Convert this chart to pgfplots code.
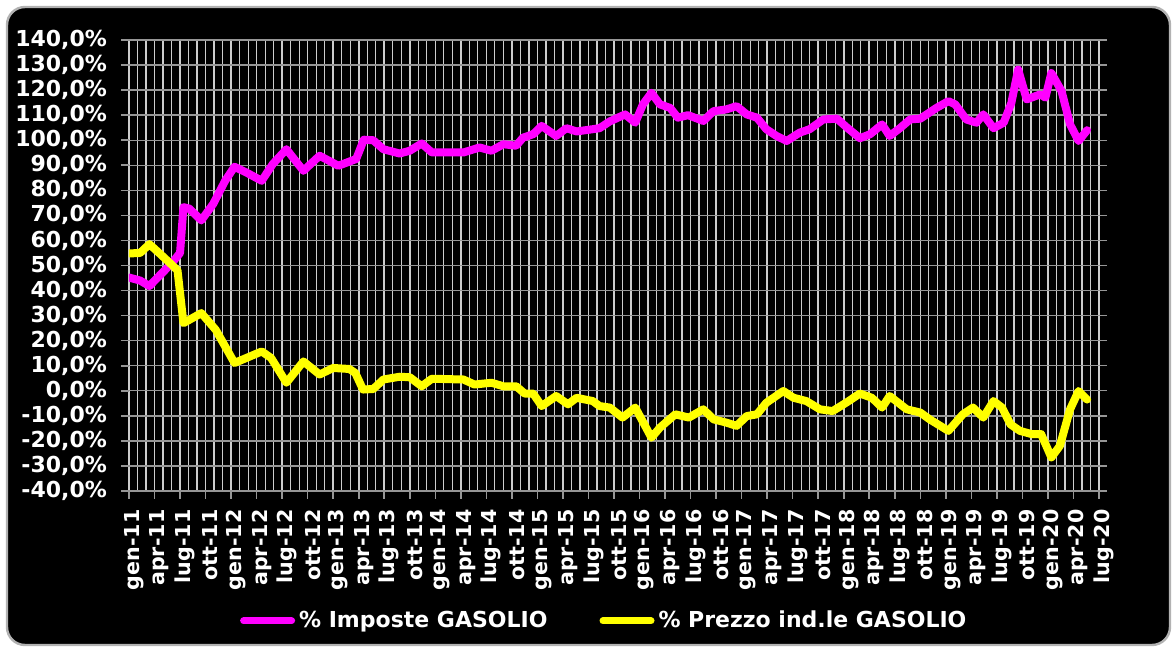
\documentclass[border=0pt]{standalone}
\usepackage{pgfplots}
\pgfplotsset{compat=1.18}
\usepackage{fontspec}
\setmainfont{DejaVu Sans}
\definecolor{mag}{RGB}{255,0,255}
\definecolor{yel}{RGB}{255,255,0}
\definecolor{hgrid}{RGB}{150,150,150}
\definecolor{vgrid}{RGB}{205,205,205}
\pgfplotstableread{
m v
0 45.2
1.3 44
2.4 41.8
3.6 46
5 50.8
6 55
6.4 73.3
7.1 72.7
8.5 68
9.9 74.6
11.3 83.8
12.4 89.4
13.8 87.1
15.6 83.8
16.9 90.5
18.5 96.4
20.5 87.8
22.4 93.8
24.6 89.8
26.7 92.5
27.6 100.2
28.7 100
29.9 96.4
31.8 94.7
33 95.8
34.4 98.7
35.6 95.1
37.3 95.1
39.3 95.1
41.2 97.1
42.6 95.8
44 98.4
45.5 97.8
46.3 101
47.5 102.4
48.5 105.7
50.2 101.7
51.4 104.8
52.6 103.5
54.5 104.4
55.3 104.8
56.5 107.5
58.3 110.3
59.5 107
60.4 114.3
61.4 118.9
62.4 114.3
63.6 112.9
64.5 109
65.7 110
67.5 107.7
68.7 111.6
70.2 112.3
71.4 113.6
72.6 110.3
73.8 109
74.9 104.4
76.1 101.7
77.3 99.7
78.8 103
80 104.4
81.6 108.3
83.2 108.6
84.4 105
85.9 100.8
87.1 102.4
88.5 106.3
89.4 101.7
90.6 104.8
91.8 108.3
93 108.6
94.9 112.9
96.3 115.6
97.1 114.3
98.4 108.3
99.6 107
100.4 110.3
101.6 104.8
102.8 107
103.7 114.9
104.5 128.2
105.5 116.3
107.1 118.3
107.7 117
108.4 126.8
109.6 119.6
110.6 106.3
111.6 99.7
112.6 104
}\imposte
\pgfplotstableread{
m v
0 54.8
1.3 55
2.4 58.5
3.6 54.8
4.8 51
5.7 48.1
6.4 27
8.5 31
10.2 24.3
12.4 11.1
13.8 13.1
15.6 15.7
16.7 13.1
18.5 3.2
20.5 11.7
22.4 6.5
24 9.1
25.9 8.7
26.6 7.1
27.5 0.5
28.7 0.7
29.9 4.5
31.8 5.6
33 5.4
34.4 1.8
35.6 4.8
39.3 4.5
40.6 2.5
42.6 3.2
44 1.8
45.5 1.8
46.5 -1.1
47.5 -1.1
48.5 -6.1
50.2 -2.1
51.6 -5.4
52.6 -2.8
54.5 -4.1
55.3 -6.1
56.5 -6.7
58 -10.7
59.5 -6.7
61.4 -18.7
62.4 -14.7
64.2 -9.4
65.8 -10.7
67.5 -7.4
68.7 -11.4
70.2 -12.7
71.4 -14
72.6 -10.1
73.8 -9.4
74.9 -4.8
76.9 -0.1
78.1 -2.8
79.6 -4.1
81.2 -7.4
82.7 -8.1
84.4 -4.5
85.9 -1.1
87.3 -2.8
88.5 -6.7
89.4 -2.1
91.4 -7.4
93 -8.7
94.1 -11.4
96.3 -16
98 -9.4
99.2 -6.7
100.4 -10.7
101.6 -4.1
102.6 -6.7
103.6 -13.4
104.7 -16
106.1 -17.3
107.2 -17.3
108.4 -26.6
109.4 -22
110.6 -7.4
111.6 -0.1
112.6 -3.5
}\prezzo
\begin{document}
\begin{tikzpicture}
\useasboundingbox (-64.5pt,-78.5pt) rectangle (523pt,245.5pt);
\fill[white] (-64.5pt,-78.5pt) rectangle (523pt,245.5pt);
\draw[fill=black, draw=gray!60, line width=1.2pt, rounded corners=9pt] (-61pt,-77pt) rectangle (520.5pt,242pt);
\begin{axis}[
  scale only axis,
  width=489pt, height=225.5pt,
  xmin=0, xmax=114.94,
  ymin=-40, ymax=140,
  axis line style={draw=none},
  tick align=outside,
  xtick pos=left, ytick pos=left,
  major tick length=4pt,
  minor tick length=0pt,
  tick style={hgrid, line width=0.8pt},
  xtick={0,3,...,114},
  minor x tick num=2,
  xticklabels={gen-11,apr-11,lug-11,ott-11,gen-12,apr-12,lug-12,ott-12,gen-13,apr-13,lug-13,ott-13,gen-14,apr-14,lug-14,ott-14,gen-15,apr-15,lug-15,ott-15,gen-16,apr-16,lug-16,ott-16,gen-17,apr-17,lug-17,ott-17,gen-18,apr-18,lug-18,ott-18,gen-19,apr-19,lug-19,ott-19,gen-20,apr-20,lug-20},
  ytick={-40,-30,...,140},
  yticklabels={{-40,0\%},{-30,0\%},{-20,0\%},{-10,0\%},{0,0\%},{10,0\%},{20,0\%},{30,0\%},{40,0\%},{50,0\%},{60,0\%},{70,0\%},{80,0\%},{90,0\%},{100,0\%},{110,0\%},{120,0\%},{130,0\%},{140,0\%}},
  xticklabel style={font=\fontsize{10.3}{12}\selectfont\bfseries, text=white, xshift=2.5pt, yshift=-1.8pt, rotate=90, anchor=east},
  yticklabel style={font=\fontsize{11}{13}\selectfont\bfseries, text=white, xshift=-3.5pt},
  xmajorgrids, xminorgrids, ymajorgrids,
  major x grid style={vgrid, line width=0.8pt},
  minor x grid style={vgrid, line width=0.6pt},
  major y grid style={hgrid, line width=0.7pt},
  legend columns=2,
  legend style={at={(0.487,-0.288)}, anchor=center, draw=none, fill=none, text=white,
    font=\fontsize{11}{13}\selectfont\bfseries,
    /tikz/every even column/.append style={column sep=24pt}},
  legend image code/.code={\draw[#1, line width=3.5pt, line cap=round] (0pt,0pt) -- (24pt,0pt);},
]
\addplot[mag, line width=4pt, line join=round, line cap=round] table[x=m,y=v] {\imposte};
\addlegendentry{\% Imposte GASOLIO}
\addplot[yel, line width=4pt, line join=round, line cap=round] table[x=m,y=v] {\prezzo};
\addlegendentry{\% Prezzo ind.le GASOLIO}
\end{axis}
\end{tikzpicture}
\end{document}
